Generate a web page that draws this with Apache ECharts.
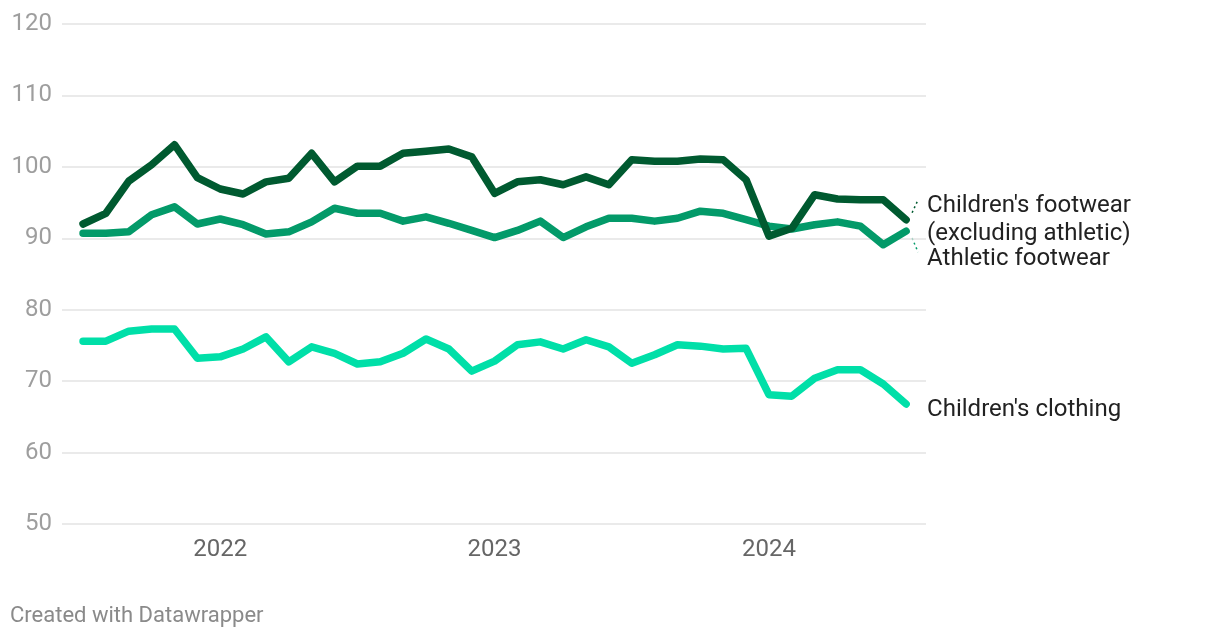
<!DOCTYPE html>
<html>
<head>
<meta charset="utf-8">
<script src="https://cdn.jsdelivr.net/npm/echarts@6/dist/echarts.min.js"></script>
<style>
html,body{margin:0;padding:0;background:#fff;}
#chart{width:1220px;height:640px;}
</style>
</head>
<body>
<div id="chart"></div>
<script>
// Monthly, July 2021 .. July 2024
const months = ['2021-07','2021-08','2021-09','2021-10','2021-11','2021-12',
  '2022-01','2022-02','2022-03','2022-04','2022-05','2022-06','2022-07','2022-08','2022-09','2022-10','2022-11','2022-12',
  '2023-01','2023-02','2023-03','2023-04','2023-05','2023-06','2023-07','2023-08','2023-09','2023-10','2023-11','2023-12',
  '2024-01','2024-02','2024-03','2024-04','2024-05','2024-06','2024-07'];
const footwearExAthletic = [92.0,93.5,98.0,100.3,103.1,98.5,96.9,96.2,97.9,98.4,101.9,97.9,100.1,100.1,101.9,102.2,102.5,101.4,96.3,97.9,98.2,97.5,98.6,97.5,101.0,100.8,100.8,101.1,101.0,98.2,90.3,91.4,96.1,95.5,95.4,95.4,92.6];
const athleticFootwear = [90.7,90.7,90.9,93.3,94.4,92.0,92.7,91.9,90.6,90.9,92.3,94.2,93.5,93.5,92.4,93.0,92.1,91.1,90.1,91.1,92.4,90.1,91.6,92.8,92.8,92.4,92.8,93.8,93.5,92.6,91.7,91.3,91.9,92.3,91.7,89.1,91.0];
const childrensClothing = [75.6,75.6,77.0,77.3,77.3,73.2,73.4,74.5,76.2,72.7,74.8,73.9,72.4,72.7,73.9,75.9,74.5,71.4,72.8,75.1,75.5,74.5,75.8,74.8,72.5,73.7,75.1,74.9,74.5,74.6,68.1,67.9,70.4,71.6,71.6,69.6,66.8];
const yearTicks = [6, 18, 30];
const yearLabels = ['2022', '2023', '2024'];
const yTicks = [50, 60, 70, 80, 90, 100, 110, 120];

const pairs = arr => arr.map((v, i) => [i, v]);
const FONT = 'Roboto';

const chart = echarts.init(document.getElementById('chart'), null, {renderer: 'canvas'});
const footer = {type: 'text', left: 10, top: 605, style: {text: 'Created with Datawrapper', fill: '#8a8a8a', font: '22px Roboto'}};
const option = {
  animation: false,
  backgroundColor: '#fff',
  grid: {left: 62, right: 294, top: 24, bottom: 116, containLabel: false},
  xAxis: {
    type: 'value',
    min: -0.92,
    max: 36.87,
    axisLine: {show: false},
    axisTick: {show: false},
    splitLine: {show: false},
    axisLabel: {
      customValues: yearTicks,
      formatter: v => yearLabels[yearTicks.indexOf(Math.round(v))] || '',
      color: '#666',
      fontFamily: FONT,
      fontSize: 24,
      margin: 14
    }
  },
  yAxis: {
    type: 'value',
    min: 50,
    max: 120,
    interval: 10,
    axisLine: {show: false},
    axisTick: {show: false},
    splitLine: {lineStyle: {color: '#e3e3e3', width: 1.5}},
    axisLabel: {
      color: '#9e9e9e',
      fontFamily: FONT,
      fontSize: 24,
      margin: 10,
      formatter: v => yTicks.includes(v) ? String(v) : ''
    }
  },
  series: [
    {
      name: 'Children\'s clothing',
      type: 'line',
      data: pairs(childrensClothing),
      symbol: 'none',
      lineStyle: {color: '#00dfa8', width: 7.5, cap: 'round', join: 'round'},
      endLabel: {show: true, formatter: 'Children\'s clothing', color: '#222', fontFamily: FONT, fontSize: 24, offset: [13, 6]}
    },
    {
      name: 'Athletic footwear',
      type: 'line',
      data: pairs(athleticFootwear),
      symbol: 'none',
      lineStyle: {color: '#039a69', width: 7.5, cap: 'round', join: 'round'},
      endLabel: {show: true, formatter: 'Athletic footwear', color: '#222', fontFamily: FONT, fontSize: 24, offset: [13, 28]}
    },
    {
      name: 'Children\'s footwear (excluding athletic)',
      type: 'line',
      data: pairs(footwearExAthletic),
      symbol: 'none',
      lineStyle: {color: '#005a30', width: 7.5, cap: 'round', join: 'round'},
      endLabel: {show: true, formatter: 'Children\'s footwear\n(excluding athletic)', color: '#222', fontFamily: FONT, fontSize: 24, lineHeight: 28, offset: [13, 0]}
    }
  ],
  graphic: [footer]
};
chart.setOption(option);

// dotted connectors from line ends to the labels
const last = months.length - 1;
const pDark = chart.convertToPixel({seriesIndex: 2}, [last, footwearExAthletic[last]]);
const pAth = chart.convertToPixel({seriesIndex: 1}, [last, athleticFootwear[last]]);
chart.setOption({
  graphic: [
    footer,
    {type: 'line', shape: {x1: pDark[0] + 6, y1: pDark[1] - 7, x2: pDark[0] + 12, y2: pDark[1] - 20},
      style: {stroke: '#005a30', lineWidth: 1.5, lineDash: [2, 3]}},
    {type: 'line', shape: {x1: pAth[0] + 6, y1: pAth[1] + 7, x2: pAth[0] + 12, y2: pAth[1] + 21},
      style: {stroke: '#039a69', lineWidth: 1.5, lineDash: [2, 3]}}
  ]
});
</script>
</body>
</html>
